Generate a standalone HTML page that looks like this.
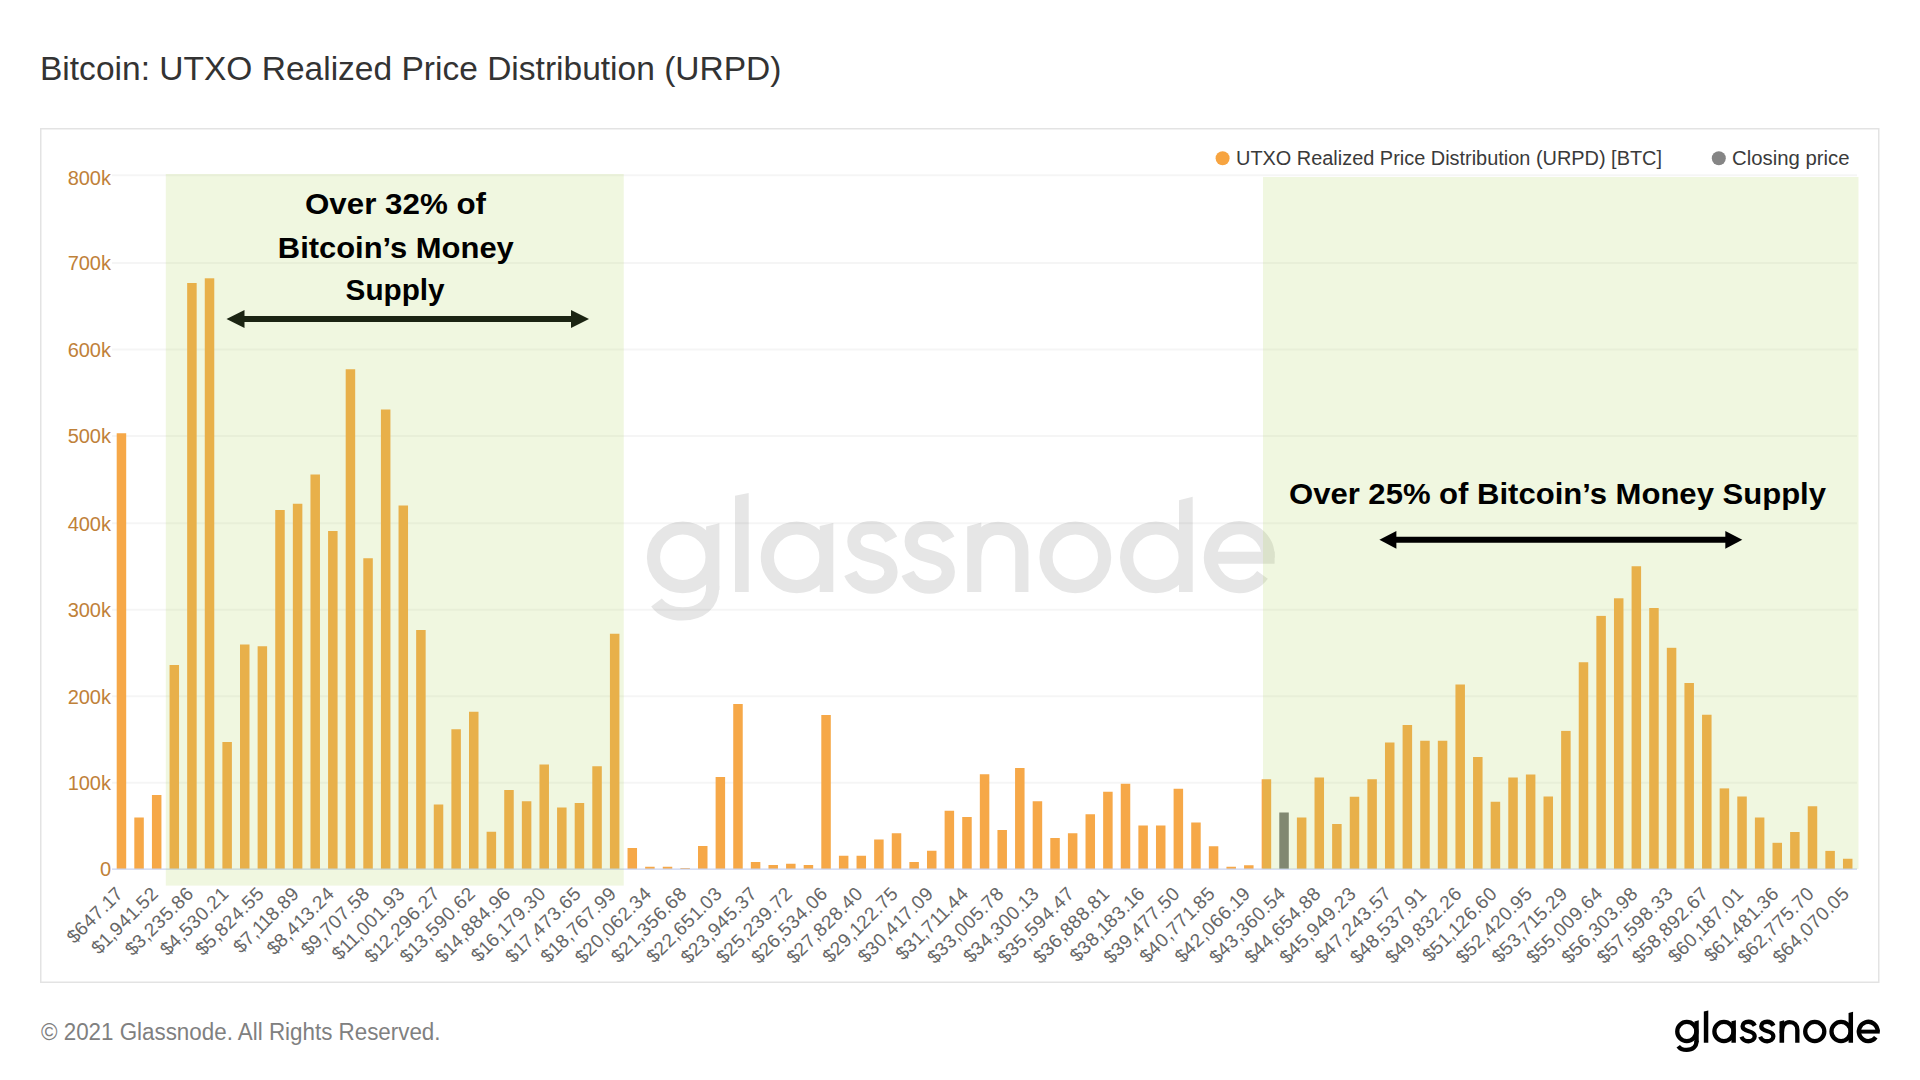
<!DOCTYPE html><html><head><meta charset="utf-8"><style>
html,body{margin:0;padding:0;background:#fff;width:1920px;height:1080px;overflow:hidden}
svg{display:block}
text{font-family:"Liberation Sans",sans-serif}
</style></head><body>
<svg width="1920" height="1080" viewBox="0 0 1920 1080">
<rect x="0" y="0" width="1920" height="1080" fill="#fff"/>
<text id="title" x="40" y="79.8" font-size="32.5" fill="#333" textLength="741.5" lengthAdjust="spacingAndGlyphs">Bitcoin: UTXO Realized Price Distribution (URPD)</text>
<rect x="40.75" y="128.75" width="1838" height="853.5" fill="none" stroke="#e3e3e3" stroke-width="1.5"/>
<g id="wm"><g fill="none" stroke="#e6e6e6" stroke-width="13.2"><circle cx="682.8" cy="557.3" r="29.3"/><path d="M712.75,586 C712.75,605 700,613.9 682.5,613.9 C671,613.9 662,610 656.5,602.5"/><circle cx="796.7" cy="557.3" r="29.3"/><path d="M891.3,539.5 C887,531 880,527.5 872,527.5 C861,527.5 853.9,533 853.9,541.5 C853.9,551 862,554 872.8,556.6 C884,559.5 891,563 891,572 C891,581 882,587.2 872,587.2 C862,587.2 854,582 850.4,573.4"/><path transform="translate(57.3,0)" d="M891.3,539.5 C887,531 880,527.5 872,527.5 C861,527.5 853.9,533 853.9,541.5 C853.9,551 862,554 872.8,556.6 C884,559.5 891,563 891,572 C891,581 882,587.2 872,587.2 C862,587.2 854,582 850.4,573.4"/><path d="M974.25,562 C974.25,540 984,528.4 998,528.4 C1013,528.4 1021.85,538 1021.85,552 V592"/><circle cx="1075.3" cy="557.3" r="29.3"/><circle cx="1155.9" cy="557.3" r="29.3"/><path d="M1268.2,557.7 A28.8,29.5 0 1 0 1262.5,574.8"/></g><g fill="#e6e6e6"><polygon points="706.1,526.5 719.4,523.2 719.4,590 706.1,590"/><polygon points="735,495.8 748.7,493 748.7,592 735,592"/><polygon points="819.7,526 833.3,523 833.3,592 819.7,592"/><polygon points="967.2,526.4 981.3,522.6 981.3,592 967.2,592"/><polygon points="1179,500.3 1192.7,496.8 1192.7,592 1179,592"/><rect x="1212" y="551.7" width="62.6" height="12.05"/></g></g>
<line x1="112" x2="1857" y1="175.3" y2="175.3" stroke="#000" stroke-opacity="0.04" stroke-width="2"/>
<line x1="112" x2="1857" y1="263" y2="263" stroke="#000" stroke-opacity="0.04" stroke-width="2"/>
<line x1="112" x2="1857" y1="349.5" y2="349.5" stroke="#000" stroke-opacity="0.04" stroke-width="2"/>
<line x1="112" x2="1857" y1="436.1" y2="436.1" stroke="#000" stroke-opacity="0.04" stroke-width="2"/>
<line x1="112" x2="1857" y1="523.3" y2="523.3" stroke="#000" stroke-opacity="0.04" stroke-width="2"/>
<line x1="112" x2="1857" y1="609.7" y2="609.7" stroke="#000" stroke-opacity="0.04" stroke-width="2"/>
<line x1="112" x2="1857" y1="696.2" y2="696.2" stroke="#000" stroke-opacity="0.04" stroke-width="2"/>
<line x1="112" x2="1857" y1="782.8" y2="782.8" stroke="#000" stroke-opacity="0.04" stroke-width="2"/>
<rect x="116.70" y="433.25" width="9.5" height="435.85" fill="#f6a848"/>
<rect x="134.31" y="817.5" width="9.5" height="51.60" fill="#f6a848"/>
<rect x="151.93" y="795" width="9.5" height="74.10" fill="#f6a848"/>
<rect x="169.55" y="665" width="9.5" height="204.10" fill="#f6a848"/>
<rect x="187.16" y="283" width="9.5" height="586.10" fill="#f6a848"/>
<rect x="204.77" y="278.3" width="9.5" height="590.80" fill="#f6a848"/>
<rect x="222.39" y="742" width="9.5" height="127.10" fill="#f6a848"/>
<rect x="240.00" y="644.5" width="9.5" height="224.60" fill="#f6a848"/>
<rect x="257.62" y="646.25" width="9.5" height="222.85" fill="#f6a848"/>
<rect x="275.24" y="510" width="9.5" height="359.10" fill="#f6a848"/>
<rect x="292.85" y="503.75" width="9.5" height="365.35" fill="#f6a848"/>
<rect x="310.46" y="474.5" width="9.5" height="394.60" fill="#f6a848"/>
<rect x="328.08" y="531" width="9.5" height="338.10" fill="#f6a848"/>
<rect x="345.69" y="369.25" width="9.5" height="499.85" fill="#f6a848"/>
<rect x="363.31" y="558.25" width="9.5" height="310.85" fill="#f6a848"/>
<rect x="380.92" y="409.5" width="9.5" height="459.60" fill="#f6a848"/>
<rect x="398.54" y="505.5" width="9.5" height="363.60" fill="#f6a848"/>
<rect x="416.15" y="630" width="9.5" height="239.10" fill="#f6a848"/>
<rect x="433.77" y="804.5" width="9.5" height="64.60" fill="#f6a848"/>
<rect x="451.38" y="729.25" width="9.5" height="139.85" fill="#f6a848"/>
<rect x="469.00" y="711.75" width="9.5" height="157.35" fill="#f6a848"/>
<rect x="486.61" y="831.75" width="9.5" height="37.35" fill="#f6a848"/>
<rect x="504.23" y="790" width="9.5" height="79.10" fill="#f6a848"/>
<rect x="521.85" y="801.25" width="9.5" height="67.85" fill="#f6a848"/>
<rect x="539.46" y="764.5" width="9.5" height="104.60" fill="#f6a848"/>
<rect x="557.07" y="807.5" width="9.5" height="61.60" fill="#f6a848"/>
<rect x="574.69" y="803" width="9.5" height="66.10" fill="#f6a848"/>
<rect x="592.30" y="766.25" width="9.5" height="102.85" fill="#f6a848"/>
<rect x="609.92" y="633.75" width="9.5" height="235.35" fill="#f6a848"/>
<rect x="627.53" y="848" width="9.5" height="21.10" fill="#f6a848"/>
<rect x="645.15" y="866.75" width="9.5" height="2.35" fill="#f6a848"/>
<rect x="662.76" y="866.75" width="9.5" height="2.35" fill="#f6a848"/>
<rect x="680.38" y="868" width="9.5" height="1.10" fill="#f6a848"/>
<rect x="698.00" y="846" width="9.5" height="23.10" fill="#f6a848"/>
<rect x="715.61" y="777" width="9.5" height="92.10" fill="#f6a848"/>
<rect x="733.23" y="704" width="9.5" height="165.10" fill="#f6a848"/>
<rect x="750.84" y="862" width="9.5" height="7.10" fill="#f6a848"/>
<rect x="768.46" y="865" width="9.5" height="4.10" fill="#f6a848"/>
<rect x="786.07" y="863.75" width="9.5" height="5.35" fill="#f6a848"/>
<rect x="803.68" y="865" width="9.5" height="4.10" fill="#f6a848"/>
<rect x="821.30" y="715" width="9.5" height="154.10" fill="#f6a848"/>
<rect x="838.91" y="855.75" width="9.5" height="13.35" fill="#f6a848"/>
<rect x="856.53" y="855.75" width="9.5" height="13.35" fill="#f6a848"/>
<rect x="874.14" y="839.5" width="9.5" height="29.60" fill="#f6a848"/>
<rect x="891.76" y="833.25" width="9.5" height="35.85" fill="#f6a848"/>
<rect x="909.38" y="862" width="9.5" height="7.10" fill="#f6a848"/>
<rect x="926.99" y="850.75" width="9.5" height="18.35" fill="#f6a848"/>
<rect x="944.61" y="810.75" width="9.5" height="58.35" fill="#f6a848"/>
<rect x="962.22" y="817" width="9.5" height="52.10" fill="#f6a848"/>
<rect x="979.83" y="774.25" width="9.5" height="94.85" fill="#f6a848"/>
<rect x="997.45" y="830" width="9.5" height="39.10" fill="#f6a848"/>
<rect x="1015.06" y="768" width="9.5" height="101.10" fill="#f6a848"/>
<rect x="1032.68" y="801.25" width="9.5" height="67.85" fill="#f6a848"/>
<rect x="1050.29" y="838" width="9.5" height="31.10" fill="#f6a848"/>
<rect x="1067.91" y="833.25" width="9.5" height="35.85" fill="#f6a848"/>
<rect x="1085.52" y="814.25" width="9.5" height="54.85" fill="#f6a848"/>
<rect x="1103.14" y="791.75" width="9.5" height="77.35" fill="#f6a848"/>
<rect x="1120.75" y="783.75" width="9.5" height="85.35" fill="#f6a848"/>
<rect x="1138.37" y="825.5" width="9.5" height="43.60" fill="#f6a848"/>
<rect x="1155.98" y="825.5" width="9.5" height="43.60" fill="#f6a848"/>
<rect x="1173.60" y="788.75" width="9.5" height="80.35" fill="#f6a848"/>
<rect x="1191.21" y="822.5" width="9.5" height="46.60" fill="#f6a848"/>
<rect x="1208.83" y="846.25" width="9.5" height="22.85" fill="#f6a848"/>
<rect x="1226.44" y="866.75" width="9.5" height="2.35" fill="#f6a848"/>
<rect x="1244.06" y="865.25" width="9.5" height="3.85" fill="#f6a848"/>
<rect x="1261.67" y="779.25" width="9.5" height="89.85" fill="#f6a848"/>
<rect x="1279.29" y="812.5" width="9.5" height="56.60" fill="#777777"/>
<rect x="1296.90" y="817.5" width="9.5" height="51.60" fill="#f6a848"/>
<rect x="1314.52" y="777.5" width="9.5" height="91.60" fill="#f6a848"/>
<rect x="1332.13" y="824" width="9.5" height="45.10" fill="#f6a848"/>
<rect x="1349.75" y="796.75" width="9.5" height="72.35" fill="#f6a848"/>
<rect x="1367.37" y="779.25" width="9.5" height="89.85" fill="#f6a848"/>
<rect x="1384.98" y="742.5" width="9.5" height="126.60" fill="#f6a848"/>
<rect x="1402.60" y="725" width="9.5" height="144.10" fill="#f6a848"/>
<rect x="1420.21" y="740.75" width="9.5" height="128.35" fill="#f6a848"/>
<rect x="1437.82" y="740.75" width="9.5" height="128.35" fill="#f6a848"/>
<rect x="1455.44" y="684.5" width="9.5" height="184.60" fill="#f6a848"/>
<rect x="1473.05" y="757" width="9.5" height="112.10" fill="#f6a848"/>
<rect x="1490.67" y="801.75" width="9.5" height="67.35" fill="#f6a848"/>
<rect x="1508.28" y="777.5" width="9.5" height="91.60" fill="#f6a848"/>
<rect x="1525.90" y="774.5" width="9.5" height="94.60" fill="#f6a848"/>
<rect x="1543.51" y="796.5" width="9.5" height="72.60" fill="#f6a848"/>
<rect x="1561.13" y="730.9" width="9.5" height="138.20" fill="#f6a848"/>
<rect x="1578.74" y="662.25" width="9.5" height="206.85" fill="#f6a848"/>
<rect x="1596.36" y="615.9" width="9.5" height="253.20" fill="#f6a848"/>
<rect x="1613.97" y="598.3" width="9.5" height="270.80" fill="#f6a848"/>
<rect x="1631.59" y="566.25" width="9.5" height="302.85" fill="#f6a848"/>
<rect x="1649.20" y="608" width="9.5" height="261.10" fill="#f6a848"/>
<rect x="1666.82" y="647.8" width="9.5" height="221.30" fill="#f6a848"/>
<rect x="1684.43" y="683" width="9.5" height="186.10" fill="#f6a848"/>
<rect x="1702.05" y="714.75" width="9.5" height="154.35" fill="#f6a848"/>
<rect x="1719.66" y="788.4" width="9.5" height="80.70" fill="#f6a848"/>
<rect x="1737.28" y="796.5" width="9.5" height="72.60" fill="#f6a848"/>
<rect x="1754.89" y="817.5" width="9.5" height="51.60" fill="#f6a848"/>
<rect x="1772.51" y="842.8" width="9.5" height="26.30" fill="#f6a848"/>
<rect x="1790.12" y="832" width="9.5" height="37.10" fill="#f6a848"/>
<rect x="1807.74" y="806.25" width="9.5" height="62.85" fill="#f6a848"/>
<rect x="1825.35" y="850.9" width="9.5" height="18.20" fill="#f6a848"/>
<rect x="1842.97" y="858.75" width="9.5" height="10.35" fill="#f6a848"/>
<line x1="112" x2="1857" y1="869.1" y2="869.1" stroke="#c9d3f0" stroke-width="1.2"/>
<rect x="165.8" y="174" width="457.95" height="711.6" fill="#afd358" fill-opacity="0.184"/>
<rect x="1263" y="177" width="595.5" height="692" fill="#afd358" fill-opacity="0.184"/>
<text class="yl" id="yl800k" x="111" y="184.5" font-size="20" fill="#bf8139" text-anchor="end">800k</text>
<text class="yl" id="yl700k" x="111" y="270.3" font-size="20" fill="#bf8139" text-anchor="end">700k</text>
<text class="yl" id="yl600k" x="111" y="356.8" font-size="20" fill="#bf8139" text-anchor="end">600k</text>
<text class="yl" id="yl500k" x="111" y="443.4" font-size="20" fill="#bf8139" text-anchor="end">500k</text>
<text class="yl" id="yl400k" x="111" y="530.6" font-size="20" fill="#bf8139" text-anchor="end">400k</text>
<text class="yl" id="yl300k" x="111" y="617.0" font-size="20" fill="#bf8139" text-anchor="end">300k</text>
<text class="yl" id="yl200k" x="111" y="703.5" font-size="20" fill="#bf8139" text-anchor="end">200k</text>
<text class="yl" id="yl100k" x="111" y="790.1" font-size="20" fill="#bf8139" text-anchor="end">100k</text>
<text class="yl" id="yl0" x="111" y="876.4" font-size="20" fill="#bf8139" text-anchor="end">0</text>
<text id="xl0" class="xl" transform="translate(123.95,895.1) rotate(-45)" font-size="19" fill="#666" text-anchor="end" dx="0 0 0.55 0.55 0.55 0 -0.6">$647.17</text>
<text id="xl1" class="xl" transform="translate(159.18,895.1) rotate(-45)" font-size="19" fill="#666" text-anchor="end" dx="0 0 -0.6 0 0.55 0.55 -0.6 0 0.55">$1,941.52</text>
<text id="xl2" class="xl" transform="translate(194.41,895.1) rotate(-45)" font-size="19" fill="#666" text-anchor="end" dx="0 0 0.55 0 0.55 0.55 0.55 0 0.55">$3,235.86</text>
<text id="xl3" class="xl" transform="translate(229.64,895.1) rotate(-45)" font-size="19" fill="#666" text-anchor="end" dx="0 0 0.55 0 0.55 0.55 0.55 0 0.55">$4,530.21</text>
<text id="xl4" class="xl" transform="translate(264.87,895.1) rotate(-45)" font-size="19" fill="#666" text-anchor="end" dx="0 0 0.55 0 0.55 0.55 0.55 0 0.55">$5,824.55</text>
<text id="xl5" class="xl" transform="translate(300.10,895.1) rotate(-45)" font-size="19" fill="#666" text-anchor="end" dx="0 0 0.55 0 -0.6 -0.6 0.55 0 0.55">$7,118.89</text>
<text id="xl6" class="xl" transform="translate(335.33,895.1) rotate(-45)" font-size="19" fill="#666" text-anchor="end" dx="0 0 0.55 0 0.55 -0.6 0.55 0 0.55">$8,413.24</text>
<text id="xl7" class="xl" transform="translate(370.56,895.1) rotate(-45)" font-size="19" fill="#666" text-anchor="end" dx="0 0 0.55 0 0.55 0.55 0.55 0 0.55">$9,707.58</text>
<text id="xl8" class="xl" transform="translate(405.79,895.1) rotate(-45)" font-size="19" fill="#666" text-anchor="end" dx="0 0 -0.6 -0.6 0 0.55 0.55 -0.6 0 0.55">$11,001.93</text>
<text id="xl9" class="xl" transform="translate(441.02,895.1) rotate(-45)" font-size="19" fill="#666" text-anchor="end" dx="0 0 -0.6 0.55 0 0.55 0.55 0.55 0 0.55">$12,296.27</text>
<text id="xl10" class="xl" transform="translate(476.25,895.1) rotate(-45)" font-size="19" fill="#666" text-anchor="end" dx="0 0 -0.6 0.55 0 0.55 0.55 0.55 0 0.55">$13,590.62</text>
<text id="xl11" class="xl" transform="translate(511.48,895.1) rotate(-45)" font-size="19" fill="#666" text-anchor="end" dx="0 0 -0.6 0.55 0 0.55 0.55 0.55 0 0.55">$14,884.96</text>
<text id="xl12" class="xl" transform="translate(546.71,895.1) rotate(-45)" font-size="19" fill="#666" text-anchor="end" dx="0 0 -0.6 0.55 0 -0.6 0.55 0.55 0 0.55">$16,179.30</text>
<text id="xl13" class="xl" transform="translate(581.94,895.1) rotate(-45)" font-size="19" fill="#666" text-anchor="end" dx="0 0 -0.6 0.55 0 0.55 0.55 0.55 0 0.55">$17,473.65</text>
<text id="xl14" class="xl" transform="translate(617.17,895.1) rotate(-45)" font-size="19" fill="#666" text-anchor="end" dx="0 0 -0.6 0.55 0 0.55 0.55 0.55 0 0.55">$18,767.99</text>
<text id="xl15" class="xl" transform="translate(652.40,895.1) rotate(-45)" font-size="19" fill="#666" text-anchor="end" dx="0 0 0.55 0.55 0 0.55 0.55 0.55 0 0.55">$20,062.34</text>
<text id="xl16" class="xl" transform="translate(687.63,895.1) rotate(-45)" font-size="19" fill="#666" text-anchor="end" dx="0 0 0.55 -0.6 0 0.55 0.55 0.55 0 0.55">$21,356.68</text>
<text id="xl17" class="xl" transform="translate(722.86,895.1) rotate(-45)" font-size="19" fill="#666" text-anchor="end" dx="0 0 0.55 0.55 0 0.55 0.55 -0.6 0 0.55">$22,651.03</text>
<text id="xl18" class="xl" transform="translate(758.09,895.1) rotate(-45)" font-size="19" fill="#666" text-anchor="end" dx="0 0 0.55 0.55 0 0.55 0.55 0.55 0 0.55">$23,945.37</text>
<text id="xl19" class="xl" transform="translate(793.32,895.1) rotate(-45)" font-size="19" fill="#666" text-anchor="end" dx="0 0 0.55 0.55 0 0.55 0.55 0.55 0 0.55">$25,239.72</text>
<text id="xl20" class="xl" transform="translate(828.55,895.1) rotate(-45)" font-size="19" fill="#666" text-anchor="end" dx="0 0 0.55 0.55 0 0.55 0.55 0.55 0 0.55">$26,534.06</text>
<text id="xl21" class="xl" transform="translate(863.78,895.1) rotate(-45)" font-size="19" fill="#666" text-anchor="end" dx="0 0 0.55 0.55 0 0.55 0.55 0.55 0 0.55">$27,828.40</text>
<text id="xl22" class="xl" transform="translate(899.01,895.1) rotate(-45)" font-size="19" fill="#666" text-anchor="end" dx="0 0 0.55 0.55 0 -0.6 0.55 0.55 0 0.55">$29,122.75</text>
<text id="xl23" class="xl" transform="translate(934.24,895.1) rotate(-45)" font-size="19" fill="#666" text-anchor="end" dx="0 0 0.55 0.55 0 0.55 -0.6 0.55 0 0.55">$30,417.09</text>
<text id="xl24" class="xl" transform="translate(969.47,895.1) rotate(-45)" font-size="19" fill="#666" text-anchor="end" dx="0 0 0.55 -0.6 0 0.55 -0.6 -0.6 0 0.55">$31,711.44</text>
<text id="xl25" class="xl" transform="translate(1004.70,895.1) rotate(-45)" font-size="19" fill="#666" text-anchor="end" dx="0 0 0.55 0.55 0 0.55 0.55 0.55 0 0.55">$33,005.78</text>
<text id="xl26" class="xl" transform="translate(1039.93,895.1) rotate(-45)" font-size="19" fill="#666" text-anchor="end" dx="0 0 0.55 0.55 0 0.55 0.55 0.55 0 -0.6">$34,300.13</text>
<text id="xl27" class="xl" transform="translate(1075.16,895.1) rotate(-45)" font-size="19" fill="#666" text-anchor="end" dx="0 0 0.55 0.55 0 0.55 0.55 0.55 0 0.55">$35,594.47</text>
<text id="xl28" class="xl" transform="translate(1110.39,895.1) rotate(-45)" font-size="19" fill="#666" text-anchor="end" dx="0 0 0.55 0.55 0 0.55 0.55 0.55 0 0.55">$36,888.81</text>
<text id="xl29" class="xl" transform="translate(1145.62,895.1) rotate(-45)" font-size="19" fill="#666" text-anchor="end" dx="0 0 0.55 0.55 0 -0.6 0.55 0.55 0 -0.6">$38,183.16</text>
<text id="xl30" class="xl" transform="translate(1180.85,895.1) rotate(-45)" font-size="19" fill="#666" text-anchor="end" dx="0 0 0.55 0.55 0 0.55 0.55 0.55 0 0.55">$39,477.50</text>
<text id="xl31" class="xl" transform="translate(1216.08,895.1) rotate(-45)" font-size="19" fill="#666" text-anchor="end" dx="0 0 0.55 0.55 0 0.55 0.55 -0.6 0 0.55">$40,771.85</text>
<text id="xl32" class="xl" transform="translate(1251.31,895.1) rotate(-45)" font-size="19" fill="#666" text-anchor="end" dx="0 0 0.55 0.55 0 0.55 0.55 0.55 0 -0.6">$42,066.19</text>
<text id="xl33" class="xl" transform="translate(1286.54,895.1) rotate(-45)" font-size="19" fill="#666" text-anchor="end" dx="0 0 0.55 0.55 0 0.55 0.55 0.55 0 0.55">$43,360.54</text>
<text id="xl34" class="xl" transform="translate(1321.77,895.1) rotate(-45)" font-size="19" fill="#666" text-anchor="end" dx="0 0 0.55 0.55 0 0.55 0.55 0.55 0 0.55">$44,654.88</text>
<text id="xl35" class="xl" transform="translate(1357.00,895.1) rotate(-45)" font-size="19" fill="#666" text-anchor="end" dx="0 0 0.55 0.55 0 0.55 0.55 0.55 0 0.55">$45,949.23</text>
<text id="xl36" class="xl" transform="translate(1392.23,895.1) rotate(-45)" font-size="19" fill="#666" text-anchor="end" dx="0 0 0.55 0.55 0 0.55 0.55 0.55 0 0.55">$47,243.57</text>
<text id="xl37" class="xl" transform="translate(1427.46,895.1) rotate(-45)" font-size="19" fill="#666" text-anchor="end" dx="0 0 0.55 0.55 0 0.55 0.55 0.55 0 0.55">$48,537.91</text>
<text id="xl38" class="xl" transform="translate(1462.69,895.1) rotate(-45)" font-size="19" fill="#666" text-anchor="end" dx="0 0 0.55 0.55 0 0.55 0.55 0.55 0 0.55">$49,832.26</text>
<text id="xl39" class="xl" transform="translate(1497.92,895.1) rotate(-45)" font-size="19" fill="#666" text-anchor="end" dx="0 0 0.55 -0.6 0 -0.6 0.55 0.55 0 0.55">$51,126.60</text>
<text id="xl40" class="xl" transform="translate(1533.15,895.1) rotate(-45)" font-size="19" fill="#666" text-anchor="end" dx="0 0 0.55 0.55 0 0.55 0.55 0.55 0 0.55">$52,420.95</text>
<text id="xl41" class="xl" transform="translate(1568.38,895.1) rotate(-45)" font-size="19" fill="#666" text-anchor="end" dx="0 0 0.55 0.55 0 0.55 -0.6 0.55 0 0.55">$53,715.29</text>
<text id="xl42" class="xl" transform="translate(1603.61,895.1) rotate(-45)" font-size="19" fill="#666" text-anchor="end" dx="0 0 0.55 0.55 0 0.55 0.55 0.55 0 0.55">$55,009.64</text>
<text id="xl43" class="xl" transform="translate(1638.84,895.1) rotate(-45)" font-size="19" fill="#666" text-anchor="end" dx="0 0 0.55 0.55 0 0.55 0.55 0.55 0 0.55">$56,303.98</text>
<text id="xl44" class="xl" transform="translate(1674.07,895.1) rotate(-45)" font-size="19" fill="#666" text-anchor="end" dx="0 0 0.55 0.55 0 0.55 0.55 0.55 0 0.55">$57,598.33</text>
<text id="xl45" class="xl" transform="translate(1709.30,895.1) rotate(-45)" font-size="19" fill="#666" text-anchor="end" dx="0 0 0.55 0.55 0 0.55 0.55 0.55 0 0.55">$58,892.67</text>
<text id="xl46" class="xl" transform="translate(1744.53,895.1) rotate(-45)" font-size="19" fill="#666" text-anchor="end" dx="0 0 0.55 0.55 0 -0.6 0.55 0.55 0 0.55">$60,187.01</text>
<text id="xl47" class="xl" transform="translate(1779.76,895.1) rotate(-45)" font-size="19" fill="#666" text-anchor="end" dx="0 0 0.55 -0.6 0 0.55 0.55 -0.6 0 0.55">$61,481.36</text>
<text id="xl48" class="xl" transform="translate(1814.99,895.1) rotate(-45)" font-size="19" fill="#666" text-anchor="end" dx="0 0 0.55 0.55 0 0.55 0.55 0.55 0 0.55">$62,775.70</text>
<text id="xl49" class="xl" transform="translate(1850.22,895.1) rotate(-45)" font-size="19" fill="#666" text-anchor="end" dx="0 0 0.55 0.55 0 0.55 0.55 0.55 0 0.55">$64,070.05</text>
<circle cx="1222.6" cy="158.3" r="7" fill="#f7a440"/>
<text id="leg1" x="1236" y="165" font-size="20" fill="#3a3a3a" textLength="426" lengthAdjust="spacingAndGlyphs">UTXO Realized Price Distribution (URPD) [BTC]</text>
<circle cx="1718.8" cy="158.3" r="7" fill="#858585"/>
<text id="leg2" x="1732" y="165" font-size="20" fill="#3a3a3a" textLength="117.5" lengthAdjust="spacingAndGlyphs">Closing price</text>
<g font-weight="bold" font-size="30" fill="#000" text-anchor="middle">
<text id="a1" x="395.5" y="214.4" textLength="181" lengthAdjust="spacingAndGlyphs">Over 32% of</text>
<text id="a2" x="395.8" y="257.5" textLength="236" lengthAdjust="spacingAndGlyphs">Bitcoin’s Money</text>
<text id="a3" x="395.1" y="300.4" textLength="99" lengthAdjust="spacingAndGlyphs">Supply</text>
<text id="a4" x="1557.5" y="504.3" textLength="537" lengthAdjust="spacingAndGlyphs">Over 25% of Bitcoin’s Money Supply</text>
</g>
<line x1="242.5" x2="573" y1="318.9" y2="318.9" stroke="#1b2412" stroke-width="6"/><polygon points="226.5,318.9 244.5,309.9 244.5,327.9" fill="#1b2412"/><polygon points="589,318.9 571,309.9 571,327.9" fill="#1b2412"/>
<line x1="1394.4" x2="1727.3" y1="539.8" y2="539.8" stroke="#000" stroke-width="6"/><polygon points="1379.4,539.8 1396.4,530.9 1396.4,548.6999999999999" fill="#000"/><polygon points="1742.3,539.8 1725.3,530.9 1725.3,548.6999999999999" fill="#000"/>
<text id="foot" x="41" y="1039.6" font-size="23" fill="#808080" textLength="399.5" lengthAdjust="spacingAndGlyphs">© 2021 Glassnode. All Rights Reserved.</text>
<g id="logo" transform="translate(1675.2,1042.8) scale(0.326) translate(-647.2,-592)"><g fill="none" stroke="#000" stroke-width="13.2"><circle cx="682.8" cy="557.3" r="29.3"/><path d="M712.75,586 C712.75,605 700,613.9 682.5,613.9 C671,613.9 662,610 656.5,602.5"/><circle cx="796.7" cy="557.3" r="29.3"/><path d="M891.3,539.5 C887,531 880,527.5 872,527.5 C861,527.5 853.9,533 853.9,541.5 C853.9,551 862,554 872.8,556.6 C884,559.5 891,563 891,572 C891,581 882,587.2 872,587.2 C862,587.2 854,582 850.4,573.4"/><path transform="translate(57.3,0)" d="M891.3,539.5 C887,531 880,527.5 872,527.5 C861,527.5 853.9,533 853.9,541.5 C853.9,551 862,554 872.8,556.6 C884,559.5 891,563 891,572 C891,581 882,587.2 872,587.2 C862,587.2 854,582 850.4,573.4"/><path d="M974.25,562 C974.25,540 984,528.4 998,528.4 C1013,528.4 1021.85,538 1021.85,552 V592"/><circle cx="1075.3" cy="557.3" r="29.3"/><circle cx="1155.9" cy="557.3" r="29.3"/><path d="M1268.2,557.7 A28.8,29.5 0 1 0 1262.5,574.8"/></g><g fill="#000"><polygon points="706.1,526.5 719.4,523.2 719.4,590 706.1,590"/><polygon points="735,495.8 748.7,493 748.7,592 735,592"/><polygon points="819.7,526 833.3,523 833.3,592 819.7,592"/><polygon points="967.2,526.4 981.3,522.6 981.3,592 967.2,592"/><polygon points="1179,500.3 1192.7,496.8 1192.7,592 1179,592"/><rect x="1212" y="551.7" width="62.6" height="12.05"/></g></g>
</svg></body></html>
